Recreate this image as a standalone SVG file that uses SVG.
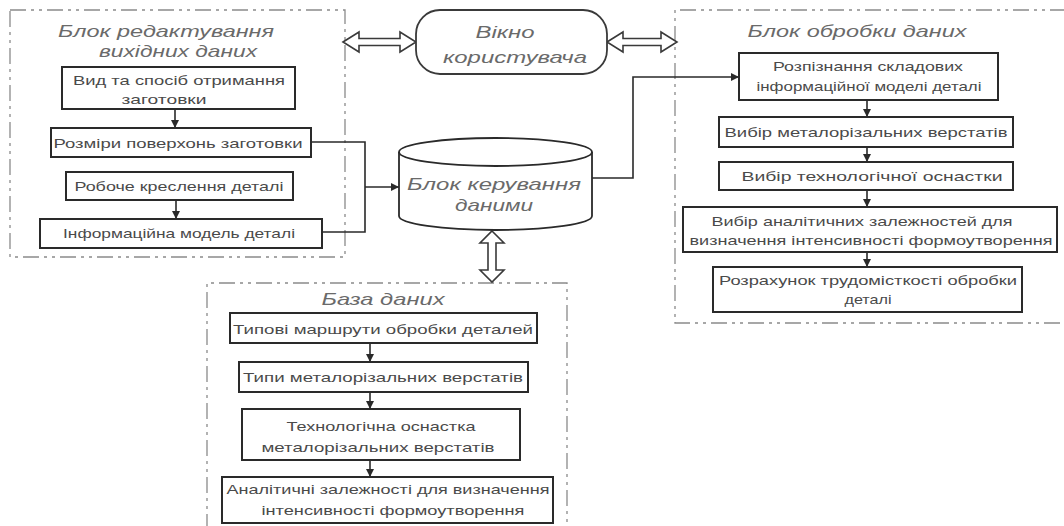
<svg xmlns="http://www.w3.org/2000/svg" width="1064" height="526" viewBox="0 0 1064 526">
<style>
  .frame{fill:none;stroke:#8a8a8a;stroke-width:1.3;stroke-dasharray:16 5 3 5 3 5}
  .box{fill:#fff;stroke:#2a2a2a;stroke-width:2}
  .t{font-family:"Liberation Sans",Arial,sans-serif;font-size:13.5px;fill:#4a4a4a;text-anchor:middle}
  .ti{font-family:"Liberation Sans",Arial,sans-serif;font-size:17px;font-style:italic;fill:#6a6a6a;text-anchor:middle}
  .ln{fill:none;stroke:#2a2a2a;stroke-width:1.6}
  .dbl{fill:#fff;stroke:#3a3a3a;stroke-width:1.6;stroke-linejoin:miter}
</style>
<defs>
  <marker id="ah" markerUnits="userSpaceOnUse" markerWidth="10" markerHeight="10" refX="8" refY="4" orient="auto">
    <path d="M0,0 L8,4 L0,8 Z" fill="#2a2a2a"/>
  </marker>
</defs>
<rect width="1064" height="526" fill="#fff"/>

<!-- frames -->
<g id="frame-left">
  <rect class="frame" x="10" y="10" width="335" height="247"/>
  <text class="ti" x="166" y="37" textLength="216" lengthAdjust="spacingAndGlyphs">Блок редактування</text>
  <text class="ti" x="178" y="57" textLength="158" lengthAdjust="spacingAndGlyphs">вихідних даних</text>
</g>
<g id="frame-right">
  <path class="frame" d="M1066,10 L675,10 L675,323 L1066,323"/>
  <text class="ti" x="857" y="37" textLength="219" lengthAdjust="spacingAndGlyphs">Блок обробки даних</text>
</g>
<g id="frame-bottom">
  <path class="frame" d="M207,530 L207,283 L567,283 L567,530"/>
  <text class="ti" x="383" y="305" textLength="123" lengthAdjust="spacingAndGlyphs">База даних</text>
</g>

<!-- connectors -->
<g id="connectors">
  <line class="ln" x1="175" y1="109" x2="175" y2="128" marker-end="url(#ah)"/>
  <line class="ln" x1="176" y1="200" x2="176" y2="219" marker-end="url(#ah)"/>
  <path class="ln" d="M311,142 L365,142 L365,232 L322,232"/>
  <line class="ln" x1="365" y1="187" x2="399" y2="187" marker-end="url(#ah)"/>
  <path class="ln" d="M592,178 L633,178 L633,77 L739,77" marker-end="url(#ah)"/>
  <line class="ln" x1="867" y1="100" x2="867" y2="117" marker-end="url(#ah)"/>
  <line class="ln" x1="867" y1="147" x2="867" y2="162" marker-end="url(#ah)"/>
  <line class="ln" x1="867" y1="190" x2="867" y2="207" marker-end="url(#ah)"/>
  <line class="ln" x1="867" y1="252" x2="867" y2="267" marker-end="url(#ah)"/>
  <line class="ln" x1="370" y1="343" x2="370" y2="362" marker-end="url(#ah)"/>
  <line class="ln" x1="370" y1="392" x2="370" y2="409" marker-end="url(#ah)"/>
  <line class="ln" x1="370" y1="460" x2="370" y2="477" marker-end="url(#ah)"/>
  <polygon class="dbl" points="343,42 359,32 359,38.5 400,38.5 400,32 416,42 400,52 400,45.5 359,45.5 359,52"/>
  <polygon class="dbl" points="607,42 623,32 623,38.5 661,38.5 661,32 677,42 661,52 661,45.5 623,45.5 623,52"/>
  <polygon class="dbl" points="492,231 504,243 496,243 496,270 504,270 492,282 480,270 488,270 488,243 480,243"/>
</g>

<!-- user window -->
<g id="user-window">
  <rect x="416" y="10" width="191" height="64" rx="24" ry="24" fill="#fff" stroke="#3a3a3a" stroke-width="1.8"/>
  <text class="ti" x="505" y="38" textLength="59" lengthAdjust="spacingAndGlyphs">Вікно</text>
  <text class="ti" x="515" y="63" textLength="144" lengthAdjust="spacingAndGlyphs">користувача</text>
</g>

<!-- data control cylinder -->
<g id="data-control">
  <path d="M399,152 A96.5,14 0 0 1 592,152 L592,216 A96.5,14 0 0 1 399,216 Z" fill="#fff" stroke="#2a2a2a" stroke-width="1.8"/>
  <path d="M399,152 A96.5,14 0 0 0 592,152" fill="none" stroke="#2a2a2a" stroke-width="1.8"/>
  <text class="ti" x="494" y="190" textLength="174" lengthAdjust="spacingAndGlyphs">Блок керування</text>
  <text class="ti" x="494" y="211" textLength="78" lengthAdjust="spacingAndGlyphs">даними</text>
</g>

<!-- left block nodes -->
<g id="l1">
  <rect class="box" x="62" y="67" width="233" height="42"/>
  <text class="t" x="179" y="85" textLength="212" lengthAdjust="spacingAndGlyphs">Вид та спосіб отримання</text>
  <text class="t" x="164" y="104" textLength="85" lengthAdjust="spacingAndGlyphs">заготовки</text>
</g>
<g id="l2">
  <rect class="box" x="51" y="128" width="260" height="29"/>
  <text class="t" x="178" y="148" textLength="249" lengthAdjust="spacingAndGlyphs">Розміри поверхонь заготовки</text>
</g>
<g id="l3">
  <rect class="box" x="66" y="172" width="227" height="28"/>
  <text class="t" x="179" y="191" textLength="209" lengthAdjust="spacingAndGlyphs">Робоче креслення деталі</text>
</g>
<g id="l4">
  <rect class="box" x="40" y="219" width="282" height="29"/>
  <text class="t" x="179" y="238" textLength="232" lengthAdjust="spacingAndGlyphs">Інформаційна модель деталі</text>
</g>

<!-- right block nodes -->
<g id="r1">
  <rect class="box" x="739" y="53" width="259" height="47"/>
  <text class="t" x="868" y="71" textLength="190" lengthAdjust="spacingAndGlyphs">Розпізнання складових</text>
  <text class="t" x="869" y="91" textLength="225" lengthAdjust="spacingAndGlyphs">інформаційної моделі деталі</text>
</g>
<g id="r2">
  <rect class="box" x="719" y="117" width="294" height="30"/>
  <text class="t" x="866" y="137" textLength="283" lengthAdjust="spacingAndGlyphs">Вибір  металорізальних верстатів</text>
</g>
<g id="r3">
  <rect class="box" x="719" y="162" width="294" height="28"/>
  <text class="t" x="872" y="181" textLength="261" lengthAdjust="spacingAndGlyphs">Вибір  технологічної оснастки</text>
</g>
<g id="r4">
  <rect class="box" x="683" y="207" width="374" height="45"/>
  <text class="t" x="862" y="226" textLength="301" lengthAdjust="spacingAndGlyphs">Вибір аналітичних залежностей для</text>
  <text class="t" x="871" y="245" textLength="363" lengthAdjust="spacingAndGlyphs">визначення інтенсивності формоутворення</text>
</g>
<g id="r5">
  <rect class="box" x="713" y="267" width="309" height="45"/>
  <text class="t" x="868" y="285" textLength="298" lengthAdjust="spacingAndGlyphs">Розрахунок трудомісткості обробки</text>
  <text class="t" x="868" y="304" textLength="47" lengthAdjust="spacingAndGlyphs">деталі</text>
</g>

<!-- database nodes -->
<g id="b1">
  <rect class="box" x="230" y="313" width="307" height="30"/>
  <text class="t" x="383" y="334" textLength="300" lengthAdjust="spacingAndGlyphs">Типові маршрути обробки деталей</text>
</g>
<g id="b2">
  <rect class="box" x="239" y="362" width="289" height="30"/>
  <text class="t" x="383" y="382" textLength="280" lengthAdjust="spacingAndGlyphs">Типи металорізальних верстатів</text>
</g>
<g id="b3">
  <rect class="box" x="242" y="409" width="278" height="51"/>
  <text class="t" x="381" y="431" textLength="189" lengthAdjust="spacingAndGlyphs">Технологічна оснастка</text>
  <text class="t" x="378" y="452" textLength="233" lengthAdjust="spacingAndGlyphs">металорізальних верстатів</text>
</g>
<g id="b4">
  <rect class="box" x="222" y="477" width="331" height="46"/>
  <text class="t" x="388" y="494" textLength="323" lengthAdjust="spacingAndGlyphs">Аналітичні залежності для визначення</text>
  <text class="t" x="393" y="515" textLength="263" lengthAdjust="spacingAndGlyphs">інтенсивності формоутворення</text>
</g>
</svg>
